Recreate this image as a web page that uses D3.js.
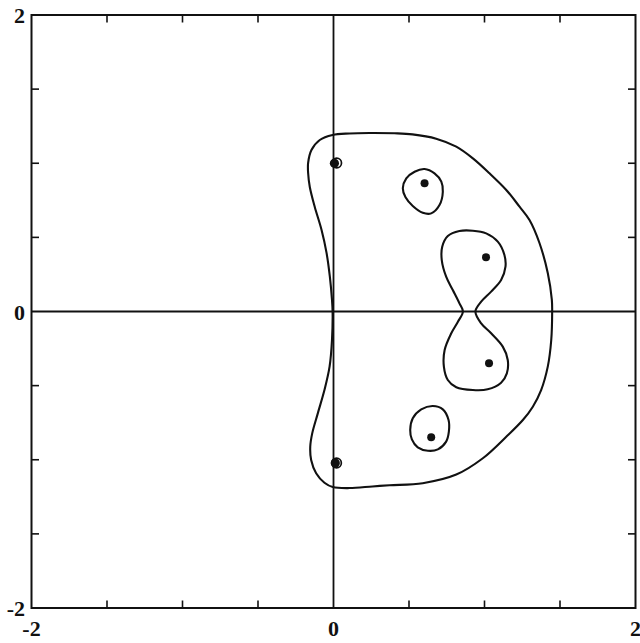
<!DOCTYPE html>
<html>
<head>
<meta charset="utf-8">
<script src="https://cdn.jsdelivr.net/npm/d3@7"></script>
<style>
  html, body { margin: 0; padding: 0; background: #fff; }
  svg { display: block; }
</style>
</head>
<body>
<svg id="chart" width="640" height="643"></svg>
<script>
// Axis extents and tick values (complex plane, real on x, imaginary on y)
const domain = [-2, 2];
const minorTicks = [-1.5, -1, -0.5, 0.5, 1, 1.5];
const labelTicks = [-2, 0, 2];

// Outer level curve, traced clockwise from the top near the imaginary axis
const outerCurve = [
  [-0.006, 1.191], [0.106, 1.201], [0.238, 1.204], [0.404, 1.202], [0.523, 1.195],
  [0.680, 1.166], [0.813, 1.112], [0.923, 1.033], [1.033, 0.932], [1.144, 0.820],
  [1.232, 0.707], [1.298, 0.617], [1.364, 0.462], [1.419, 0.260], [1.446, 0.078],
  [1.448, -0.010], [1.442, -0.192], [1.419, -0.372], [1.375, -0.530], [1.320, -0.642],
  [1.254, -0.732], [1.144, -0.845], [0.989, -0.990], [0.813, -1.100], [0.591, -1.158],
  [0.371, -1.172], [0.258, -1.180], [0.106, -1.191], [-0.005, -1.184], [-0.060, -1.155],
  [-0.115, -1.091], [-0.148, -1.002], [-0.154, -0.912], [-0.141, -0.822], [-0.104, -0.687],
  [-0.060, -0.530], [-0.026, -0.372], [-0.010, -0.192], [-0.006, 0.000], [-0.010, 0.078],
  [-0.024, 0.233], [-0.046, 0.395], [-0.079, 0.550], [-0.124, 0.705], [-0.157, 0.840],
  [-0.168, 0.934], [-0.168, 1.002], [-0.146, 1.089], [-0.091, 1.157]
];

// Small loop around the upper interior point
const upperLoop = [
  [0.459, 0.831], [0.482, 0.898], [0.537, 0.943], [0.603, 0.961], [0.669, 0.932],
  [0.714, 0.876], [0.724, 0.808], [0.702, 0.718], [0.647, 0.662], [0.591, 0.666],
  [0.525, 0.712], [0.477, 0.770]
];

// Small loop around the lower interior point
const lowerLoop = [
  [0.508, -0.799], [0.525, -0.720], [0.581, -0.660], [0.658, -0.637], [0.724, -0.660],
  [0.762, -0.732], [0.764, -0.811], [0.746, -0.878], [0.691, -0.930], [0.625, -0.939],
  [0.558, -0.916], [0.519, -0.862]
];

// Pinched (figure-eight) loop enclosing the two points near Re = 1
const waistLoop = [
  [0.857, 0.000], [0.834, 0.055], [0.790, 0.145], [0.746, 0.235], [0.717, 0.347],
  [0.720, 0.437], [0.757, 0.509], [0.834, 0.543], [0.923, 0.545], [1.011, 0.527],
  [1.088, 0.471], [1.132, 0.381], [1.139, 0.302], [1.110, 0.212], [1.044, 0.134],
  [0.978, 0.066], [0.940, 0.000], [0.978, -0.080], [1.044, -0.147], [1.121, -0.237],
  [1.154, -0.327], [1.148, -0.417], [1.110, -0.480], [1.021, -0.525], [0.923, -0.530],
  [0.813, -0.511], [0.757, -0.462], [0.731, -0.372], [0.736, -0.260], [0.780, -0.147],
  [0.824, -0.069]
];

// Tiny circular contours beside the points near ±i: [re, im, radius]
const rings = [
  [0.021, 1.002, 0.032],
  [0.020, -1.022, 0.032]
];

// Marked points: the pair on the imaginary axis, then the interior ones
const axisPoints = [[0.006, 1.000], [0.012, -1.022]];
const interiorPoints = [
  [0.603, 0.865], [0.647, -0.849],
  [1.010, 0.366], [1.030, -0.349]
];

const svg = d3.select("#chart");
const x = d3.scaleLinear().domain(domain).range([31.5, 635.5]);
const y = d3.scaleLinear().domain(domain).range([608, 15]);

const ink = "#111";
const font = "'Liberation Serif', 'DejaVu Serif', serif";

// Frame
svg.append("rect")
  .attr("x", x(-2)).attr("y", y(2))
  .attr("width", x(2) - x(-2)).attr("height", y(-2) - y(2))
  .attr("fill", "none").attr("stroke", ink).attr("stroke-width", 2);

// Inward ticks on all four sides
const tickLen = 7.5;
const tickG = svg.append("g").attr("stroke", ink).attr("stroke-width", 1.6);
minorTicks.forEach(t => {
  tickG.append("line").attr("x1", x(t)).attr("x2", x(t)).attr("y1", y(2)).attr("y2", y(2) + tickLen);
  tickG.append("line").attr("x1", x(t)).attr("x2", x(t)).attr("y1", y(-2)).attr("y2", y(-2) - tickLen);
  tickG.append("line").attr("y1", y(t)).attr("y2", y(t)).attr("x1", x(-2)).attr("x2", x(-2) + tickLen);
  tickG.append("line").attr("y1", y(t)).attr("y2", y(t)).attr("x1", x(2)).attr("x2", x(2) - tickLen);
});

// Coordinate axes
svg.append("line")
  .attr("x1", x(-2)).attr("x2", x(2)).attr("y1", y(0)).attr("y2", y(0))
  .attr("stroke", ink).attr("stroke-width", 1.8);
svg.append("line")
  .attr("x1", x(0)).attr("x2", x(0)).attr("y1", y(2)).attr("y2", y(-2))
  .attr("stroke", ink).attr("stroke-width", 1.8);

// Tick labels
svg.append("g").selectAll("text").data(labelTicks).join("text")
  .attr("x", d => x(d)).attr("y", 636)
  .attr("text-anchor", "middle")
  .attr("font-family", font).attr("font-size", 22).attr("font-weight", "bold").attr("fill", ink)
  .text(d => d);
svg.append("g").selectAll("text").data(labelTicks).join("text")
  .attr("x", 25).attr("y", d => y(d) + 8)
  .attr("text-anchor", "end")
  .attr("font-family", font).attr("font-size", 22).attr("font-weight", "bold").attr("fill", ink)
  .text(d => d);

// Level curves
const line = d3.line()
  .x(d => x(d[0])).y(d => y(d[1]))
  .curve(d3.curveCatmullRomClosed.alpha(0.5));

svg.append("g")
  .attr("fill", "none").attr("stroke", ink).attr("stroke-width", 2.1)
  .attr("stroke-linejoin", "round")
  .selectAll("path").data([outerCurve, upperLoop, lowerLoop, waistLoop]).join("path")
  .attr("d", line);

svg.append("g")
  .attr("fill", "none").attr("stroke", ink).attr("stroke-width", 1.7)
  .selectAll("circle").data(rings).join("circle")
  .attr("cx", d => x(d[0])).attr("cy", d => y(d[1]))
  .attr("r", d => x(d[0] + d[2]) - x(d[0]));

// Points
svg.append("g").attr("fill", ink)
  .selectAll("circle").data(axisPoints).join("circle")
  .attr("cx", d => x(d[0])).attr("cy", d => y(d[1]))
  .attr("r", 4.6);
svg.append("g").attr("fill", ink)
  .selectAll("circle").data(interiorPoints).join("circle")
  .attr("cx", d => x(d[0])).attr("cy", d => y(d[1]))
  .attr("r", 4);
</script>
</body>
</html>
